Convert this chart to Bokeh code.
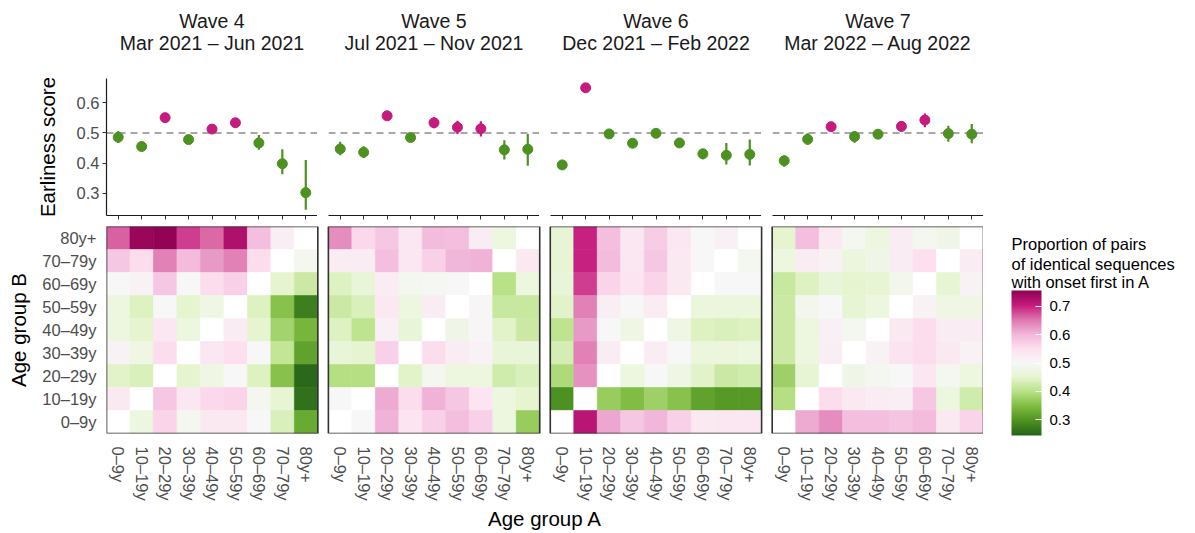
import numpy as np
from bokeh.plotting import figure
from bokeh.models import (ColumnDataSource, FactorRange, Range1d, LinearColorMapper, ColorBar,
                          FixedTicker, Span, BoxAnnotation, CustomJSTickFormatter, Label,
                          CustomLabelingPolicy)
from bokeh.transform import transform
from bokeh.layouts import column, row
from bokeh.embed import file_html
from bokeh.resources import INLINE

# ---------------- data ----------------
ages = ["0–9y", "10–19y", "20–29y", "30–39y", "40–49y", "50–59y", "60–69y", "70–79y", "80y+"]
waves = ["Wave 4", "Wave 5", "Wave 6", "Wave 7"]
periods = ["Mar 2021 – Jun 2021", "Jul 2021 – Nov 2021", "Dec 2021 – Feb 2022", "Mar 2022 – Aug 2022"]

# earliness score (estimate, lower, upper) per age group
w4_est = [0.486, 0.455, 0.551, 0.478, 0.513, 0.534, 0.467, 0.398, 0.302]
w4_lo = [0.467, 0.450, 0.545, 0.473, 0.500, 0.518, 0.444, 0.363, 0.245]
w4_hi = [0.507, 0.460, 0.557, 0.483, 0.526, 0.550, 0.493, 0.446, 0.410]

w5_est = [0.447, 0.436, 0.557, 0.485, 0.534, 0.519, 0.514, 0.444, 0.446]
w5_lo = [0.426, 0.417, 0.550, 0.479, 0.516, 0.497, 0.488, 0.412, 0.391]
w5_hi = [0.471, 0.456, 0.564, 0.491, 0.552, 0.541, 0.539, 0.476, 0.497]

w6_est = [0.394, 0.650, 0.497, 0.466, 0.499, 0.467, 0.431, 0.426, 0.429]
w6_lo = [0.388, 0.644, 0.491, 0.460, 0.493, 0.461, 0.413, 0.395, 0.392]
w6_hi = [0.400, 0.656, 0.503, 0.472, 0.505, 0.473, 0.447, 0.467, 0.478]

w7_est = [0.408, 0.479, 0.521, 0.488, 0.496, 0.522, 0.543, 0.498, 0.496]
w7_lo = [0.388, 0.461, 0.508, 0.468, 0.480, 0.504, 0.519, 0.471, 0.466]
w7_hi = [0.425, 0.499, 0.534, 0.506, 0.512, 0.540, 0.565, 0.524, 0.530]

# proportion of pairs with onset first in A; rows = age group B from 80y+ (top) to 0–9y,
# columns = age group A from 0–9y to 80y+; None on the diagonal
w4_prop = [
    [0.665, 0.745, 0.75, 0.685, 0.66, 0.725, 0.59, 0.52, None],
    [0.58, 0.555, 0.645, 0.595, 0.625, 0.645, 0.555, None, 0.49],
    [0.50, 0.51, 0.58, 0.50, 0.555, 0.57, None, 0.45, 0.42],
    [0.47, 0.44, 0.50, 0.45, 0.475, None, 0.44, 0.355, 0.275],
    [0.47, 0.45, 0.535, 0.47, None, 0.525, 0.45, 0.38, 0.34],
    [0.51, 0.475, 0.555, None, 0.535, 0.55, 0.50, 0.41, 0.315],
    [0.445, 0.435, None, 0.45, 0.475, 0.50, 0.44, 0.355, 0.25],
    [0.53, None, 0.58, 0.535, 0.56, 0.565, 0.49, 0.455, 0.26],
    [None, 0.47, 0.565, 0.49, 0.53, 0.53, 0.50, 0.435, 0.325],
]
w5_prop = [
    [0.635, 0.56, 0.58, 0.535, 0.595, 0.59, 0.525, 0.47, None],
    [0.525, 0.525, 0.59, 0.535, 0.57, 0.60, 0.605, None, 0.53],
    [0.44, 0.46, 0.525, 0.49, 0.495, 0.50, None, 0.40, 0.47],
    [0.42, 0.435, 0.53, 0.47, 0.525, None, 0.505, 0.415, 0.415],
    [0.44, 0.405, 0.515, 0.46, None, 0.48, 0.505, 0.445, 0.42],
    [0.46, 0.45, 0.57, None, 0.555, 0.525, 0.51, 0.46, 0.46],
    [0.395, 0.395, None, 0.445, 0.49, 0.47, 0.47, 0.425, 0.435],
    [0.50, None, 0.61, 0.555, 0.605, 0.58, 0.54, 0.47, 0.45],
    [None, 0.50, 0.605, 0.54, 0.57, 0.59, 0.57, 0.47, 0.37],
]
w6_prop = [
    [0.455, 0.70, 0.59, 0.535, 0.575, 0.535, 0.50, 0.515, None],
    [0.455, 0.70, 0.595, 0.535, 0.58, 0.53, 0.50, None, 0.49],
    [0.46, 0.685, 0.565, 0.54, 0.565, 0.53, None, 0.50, 0.50],
    [0.445, 0.645, 0.52, 0.50, 0.525, None, 0.465, 0.465, 0.465],
    [0.405, 0.625, 0.50, 0.475, None, 0.475, 0.44, 0.435, 0.44],
    [0.43, 0.645, 0.525, None, 0.525, 0.50, 0.465, 0.465, 0.47],
    [0.39, 0.63, None, 0.47, 0.50, 0.475, 0.445, 0.42, 0.425],
    [0.295, None, 0.37, 0.35, 0.375, 0.355, 0.315, 0.305, 0.305],
    [None, 0.715, 0.615, 0.58, 0.60, 0.57, 0.53, 0.535, 0.535],
]
w7_prop = [
    [0.45, 0.59, 0.53, 0.49, 0.47, 0.525, 0.49, 0.48, None],
    [0.47, 0.525, 0.51, 0.465, 0.48, 0.525, 0.55, None, 0.525],
    [0.415, 0.44, 0.46, 0.45, 0.455, 0.485, None, 0.455, 0.51],
    [0.42, 0.485, 0.50, 0.455, 0.47, None, 0.51, 0.475, 0.475],
    [0.42, 0.47, 0.515, 0.49, None, 0.53, 0.555, 0.525, 0.525],
    [0.42, 0.47, 0.52, None, 0.51, 0.545, 0.555, 0.53, 0.51],
    [0.375, 0.455, None, 0.48, 0.49, 0.50, 0.535, 0.49, 0.47],
    [0.395, None, 0.555, 0.53, 0.525, 0.52, 0.58, 0.47, 0.425],
    [None, 0.61, 0.635, 0.59, 0.59, 0.585, 0.595, 0.53, 0.565],
]
colorbar_ticks = [0.3, 0.4, 0.5, 0.6, 0.7]
score_ticks = [0.3, 0.4, 0.5, 0.6]
legend_title = ["Proportion of pairs", "of identical sequences", "with onset first in A"]

# ---------------- styling / layout ----------------
FONT = "Liberation Sans"
TICK_SIZE = "16.5px"
AXT_SIZE = "20.5px"
PINK, GREEN = "#c51b7d", "#4d9221"
BREWER = ['#276419', '#4d9221', '#7fbc41', '#b8e186', '#e6f5d0', '#f7f7f7',
          '#fde0ef', '#f1b6da', '#de77ae', '#c51b7d', '#8e0152']


def interp_palette(cols, n=256):
    rgb = np.array([[int(c[i:i + 2], 16) for i in (1, 3, 5)] for c in cols], float)
    t = np.linspace(0, 1, len(cols))
    out = []
    for x in np.linspace(0, 1, n):
        r = [np.interp(x, t, rgb[:, k]) for k in range(3)]
        out.append("#%02x%02x%02x" % tuple(int(round(v)) for v in r))
    return out


mapper = LinearColorMapper(palette=interp_palette(BREWER), low=0.245, high=0.755, nan_color="white")

PAGE_W = 1195
FRAME_W, GAP_PX = 211, 11
LEFT_B = 106
HEADER_H = 78
DOT_FRAME_H, DOT_BOTTOM = 137, 11
Y_LO, Y_HI = 0.226, 0.681
TITLE_BASELINES = (20, 42)

ests = [w4_est, w5_est, w6_est, w7_est]
los = [w4_lo, w5_lo, w6_lo, w7_lo]
his = [w4_hi, w5_hi, w6_hi, w7_hi]
props = [w4_prop, w5_prop, w6_prop, w7_prop]


def blank_figure(width, height, frame_h, bottom=0, flip=True):
    yr = Range1d(frame_h, 0) if flip else Range1d(0, frame_h)
    f = figure(width=width, height=height, x_range=Range1d(0, width), y_range=yr,
               output_backend="svg", toolbar_location=None, title=None,
               min_border_left=0, min_border_right=0, min_border_top=0,
               min_border_bottom=bottom)
    f.axis.visible = False
    f.grid.visible = False
    f.outline_line_color = None
    return f


# ---------------- strip titles ----------------
header = blank_figure(PAGE_W, HEADER_H, HEADER_H)
for i in range(4):
    cx = LEFT_B + i * (FRAME_W + GAP_PX) + FRAME_W / 2
    for txt, by in zip((waves[i], periods[i]), TITLE_BASELINES):
        header.add_layout(Label(x=cx, y=by, text=txt, text_align="center",
                                text_baseline="alphabetic", text_font=FONT,
                                text_font_size="19.5px", text_color="#1a1a1a"))

# ---------------- earliness score panels ----------------
no_labels = CustomLabelingPolicy(code="const r = new Set(); return r;")

dot_figs = []
for i in range(4):
    left = LEFT_B if i == 0 else GAP_PX
    p = figure(width=left + FRAME_W, height=DOT_FRAME_H + DOT_BOTTOM,
               x_range=FactorRange(*ages), y_range=Range1d(Y_LO, Y_HI),
               output_backend="svg", toolbar_location=None, title=None,
               min_border_left=left, min_border_right=0, min_border_top=0,
               min_border_bottom=DOT_BOTTOM)
    p.outline_line_color = None
    p.grid.visible = False
    p.background_fill_color = "white"
    p.border_fill_color = "white"

    p.add_layout(Span(location=0.5, dimension="width", line_color="#a8a8a8",
                      line_dash="7 5", line_width=1.8, level="underlay"))
    cols = [PINK if v > 0.5 else GREEN for v in ests[i]]
    src = ColumnDataSource(dict(age=ages, est=ests[i], lo=los[i], hi=his[i], col=cols))
    p.segment(x0="age", y0="lo", x1="age", y1="hi", line_color="col", line_width=2.2, source=src)
    p.scatter(x="age", y="est", size=10, fill_color="col", line_color="col", source=src)

    xa = p.xaxis[0]
    xa.major_label_policy = no_labels
    xa.major_label_text_font_size = "1px"
    xa.major_label_standoff = 0
    xa.major_tick_out = 4
    xa.major_tick_in = 0
    xa.major_tick_line_color = "#333333"
    xa.axis_line_color = "#1a1a1a"
    xa.axis_line_width = 1.2
    if i == 0:
        ya = p.yaxis[0]
        ya.ticker = FixedTicker(ticks=score_ticks)
        ya.minor_tick_line_color = None
        ya.major_tick_out = 4
        ya.major_tick_in = 0
        ya.major_tick_line_color = "#333333"
        ya.axis_line_color = "#1a1a1a"
        ya.axis_line_width = 1.2
        ya.major_label_text_font = FONT
        ya.major_label_text_font_size = TICK_SIZE
        ya.major_label_text_color = "#4d4d4d"
        ya.major_label_standoff = 3
        ya.axis_label = "Earliness score"
        ya.axis_label_text_font = FONT
        ya.axis_label_text_font_size = AXT_SIZE
        ya.axis_label_text_font_style = "normal"
        ya.axis_label_text_color = "black"
        ya.axis_label_standoff = 15
    else:
        p.yaxis.visible = False
    dot_figs.append(p)

# ---------------- heatmaps (one frame, four panels) ----------------
CELL, GAP = 20, 9
PITCH = 9 * CELL + GAP
XMAX = 3 * PITCH + 9 * CELL
HM_FRAME_W = 4 * FRAME_W + 3 * GAP_PX
HM_FRAME_H = 212
HM_BOTTOM = 94

xs, ys, vs = [], [], []
rows_top_down = ages[::-1]
for w in range(4):
    for r, b in enumerate(rows_top_down):
        for c in range(9):
            v = props[w][r][c]
            xs.append(w * PITCH + c * CELL + CELL / 2)
            ys.append(b)
            vs.append(np.nan if v is None else v)
hsrc = ColumnDataSource(dict(x=xs, b=ys, v=np.array(vs, float)))

hm = figure(width=LEFT_B + HM_FRAME_W, height=HM_FRAME_H + HM_BOTTOM,
            x_range=Range1d(0, XMAX), y_range=FactorRange(*ages),
            output_backend="svg", toolbar_location=None, title=None,
            min_border_left=LEFT_B, min_border_right=0, min_border_top=0,
            min_border_bottom=HM_BOTTOM)
hm.outline_line_color = None
hm.grid.visible = False
hm.rect(x="x", y="b", width=CELL, height=1, source=hsrc,
        fill_color=transform("v", mapper), line_color=transform("v", mapper), line_width=0.6)
for w in range(4):
    hm.add_layout(BoxAnnotation(left=w * PITCH, right=w * PITCH + 9 * CELL,
                                fill_alpha=0, line_color="#333333", line_alpha=1.0, line_width=1.6))

xa = hm.xaxis[0]
xa.ticker = FixedTicker(ticks=[w * PITCH + c * CELL + CELL / 2 for w in range(4) for c in range(9)])
xa.formatter = CustomJSTickFormatter(args=dict(labels=ages, pitch=PITCH, cell=CELL),
                                     code="return labels[Math.floor((tick % pitch) / cell)];")
xa.major_label_orientation = "vertical"
xa.axis_line_color = None
xa.major_tick_line_color = None
xa.major_tick_out = 0
xa.major_tick_in = 0
xa.minor_tick_line_color = None
xa.major_label_standoff = 13
xa.major_label_text_font = FONT
xa.major_label_text_font_size = TICK_SIZE
xa.major_label_text_color = "#4d4d4d"
xa.axis_label = "Age group A"
xa.axis_label_text_font = FONT
xa.axis_label_text_font_size = AXT_SIZE
xa.axis_label_text_font_style = "normal"
xa.axis_label_text_color = "black"
xa.axis_label_standoff = 3

ya = hm.yaxis[0]
ya.axis_line_color = None
ya.major_tick_line_color = None
ya.major_tick_out = 0
ya.major_tick_in = 0
ya.major_label_standoff = 10
ya.major_label_text_font = FONT
ya.major_label_text_font_size = TICK_SIZE
ya.major_label_text_color = "#4d4d4d"
ya.axis_label = "Age group B"
ya.axis_label_text_font = FONT
ya.axis_label_text_font_size = AXT_SIZE
ya.axis_label_text_font_style = "normal"
ya.axis_label_text_color = "black"
ya.axis_label_standoff = 9

# ---------------- legend (frame aligned with the heatmap frame) ----------------
LEG_W = PAGE_W - (LEFT_B + HM_FRAME_W)
LEG_H = HM_FRAME_H + HM_BOTTOM
LEG_X = 28                       # left edge of legend, px right of the heatmap area
LEG_BASELINES = (18, 38, 57)     # legend title line baselines, px below heatmap top

leg = blank_figure(LEG_W, LEG_H, HM_FRAME_H, bottom=HM_BOTTOM, flip=False)
for txt, by in zip(legend_title, LEG_BASELINES):
    leg.add_layout(Label(x=LEG_X, y=HM_FRAME_H - by, text=txt, text_align="left",
                         text_baseline="alphabetic", text_font=FONT,
                         text_font_size="16.5px", text_color="black"))
cb = ColorBar(color_mapper=mapper, ticker=FixedTicker(ticks=colorbar_ticks),
              orientation="vertical", width=30, height=145,
              location=(LEG_X, -2), padding=0, margin=0,
              major_label_text_font=FONT, major_label_text_font_size="15px",
              major_label_text_color="black", label_standoff=8,
              major_tick_line_color="white", major_tick_in=6, major_tick_out=0,
              minor_tick_line_color=None, bar_line_color=None, border_line_color=None,
              background_fill_color=None)
leg.add_layout(cb)

layout = column(header, row(*dot_figs), row(hm, leg))
open("out.html", "w").write(file_html(layout, INLINE))
